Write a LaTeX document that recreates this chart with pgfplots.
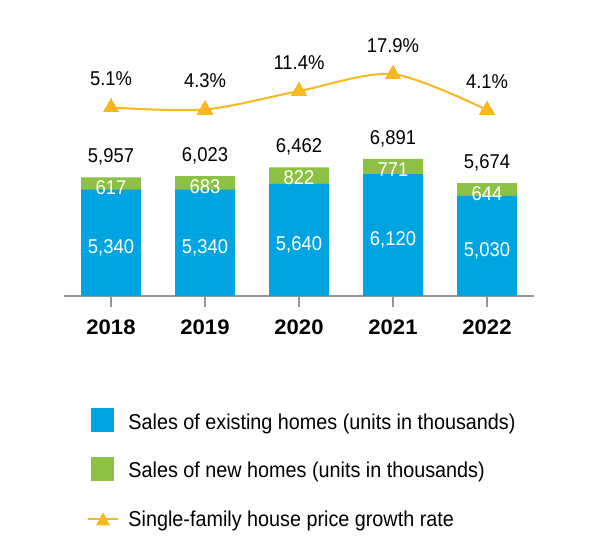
\documentclass[border=0pt]{standalone}
\usepackage{pgfplots}
\pgfplotsset{compat=1.18}
\usepackage{pgfplotstable}
\usepackage{fontspec}
\setmainfont{Liberation Sans}[FakeStretch=0.92]
\newfontfamily\yearfont{Liberation Sans}[FakeStretch=1.05]
\definecolor{cblue}{RGB}{0,164,224}
\definecolor{cgreen}{RGB}{140,193,67}
\definecolor{corange}{RGB}{250,183,31}
\definecolor{cgray}{RGB}{150,150,150}

\pgfplotstableread{
x existing new total
0 5340 617 5957
1 5340 683 6023
2 5640 822 6462
3 6120 771 6891
4 5030 644 5674
}\salestable
\pgfplotstableread{
x rate
0 5.1
1 4.3
2 11.4
3 17.9
4 4.1
}\ratetable

\pgfplotsset{
  /pgf/number format/1000 sep={,},
  /pgf/number format/assume math mode=true,
}
\newcommand\numfont{\fontsize{20bp}{22bp}\selectfont}

\begin{document}
\begin{tikzpicture}
\useasboundingbox (0,0) rectangle (600bp,550bp);
\begin{axis}[
  at={(64bp,254bp)}, anchor=south west,
  scale only axis, width=470bp, height=258.7bp,
  xmin=-0.5, xmax=4.5, ymin=0, ymax=13000,
  ybar, bar width=60bp,
  axis x line*=bottom, axis y line=none,
  x axis line style={cgray, line width=1.6bp, -},
  xtick={0,1,2,3,4},
  xticklabels={2018,2019,2020,2021,2022},
  xtick style={cgray, line width=1.6bp},
  major tick length=10.5bp, tick align=outside,
  xticklabel style={font=\yearfont\bfseries\fontsize{21bp}{21bp}\selectfont, anchor=base, inner sep=0pt, yshift=-28bp},
  ytick=\empty,
  clip=false,
  legend style={at={(0.0489,-0.431)}, anchor=north west, draw=none, fill=none,
    inner sep=0pt, outer sep=0pt, row sep=21.7bp, column sep=9.5bp,
    font=\fontsize{21.5bp}{24bp}\selectfont,
    nodes={inner sep=0pt, text height=16bp, text depth=5bp}},
  legend cell align=left,
]
% green bar = total height (existing + new), blue overlays the existing part
\addplot[forget plot, fill=cgreen, draw=none, bar shift=0pt,
  point meta=explicit,
  nodes near coords,
  every node near coord/.style={text=black, font=\numfont, anchor=base, inner sep=0pt, yshift=14.5bp},
] table[x=x, y=total, meta=total] {\salestable};
\addplot[forget plot, fill=cblue, draw=none, bar shift=0pt,
  visualization depends on={y \as \rawy},
  point meta=explicit,
  nodes near coords,
  every node near coord/.style={text=white, font=\numfont, anchor=base, inner sep=0pt,
     shift={(axis direction cs:0,-\rawy/2)}, yshift=-10.5bp},
] table[x=x, y=existing, meta=existing] {\salestable};
\addplot[forget plot, draw=none, fill=none, bar shift=0pt,
  point meta=explicit,
  nodes near coords,
  every node near coord/.style={text=white, font=\numfont, anchor=base, inner sep=0pt, yshift=-17.5bp},
] table[x=x, y=total, meta=new] {\salestable};
\addlegendimage{legend image code/.code={\path[draw=none, fill=none] (0bp,-11bp) rectangle (30bp,16bp); \path[draw=none, fill=cblue] (3.5bp,-8.5bp) rectangle (26.5bp,15.5bp);}}
\addlegendentry{Sales of existing homes (units in thousands)}
\addlegendimage{legend image code/.code={\path[draw=none, fill=none] (0bp,-11bp) rectangle (30bp,16bp); \path[draw=none, fill=cgreen] (3.5bp,-8.5bp) rectangle (26.5bp,15.5bp);}}
\addlegendentry{Sales of new homes (units in thousands)}
\addlegendimage{legend image code/.code={\path[draw=none, fill=none] (0bp,-11bp) rectangle (30bp,16bp); \path[draw=corange, fill=none, line width=2bp] (0bp,1.5bp) -- (30bp,1.5bp); \path[draw=none, fill=corange] (15bp,8.5bp) -- (8bp,-4.5bp) -- (22bp,-4.5bp) -- cycle;}}
\addlegendentry{Single-family house price growth rate}
\end{axis}
\begin{axis}[
  at={(64bp,254bp)}, anchor=south west,
  scale only axis, width=470bp, height=258.7bp,
  xmin=-0.5, xmax=4.5, ymin=-67.4, ymax=32.08,
  axis lines=none, clip=false,
]
\addplot[corange, line width=2bp, smooth, mark=triangle*, mark size=9bp, mark options={solid, fill=corange, draw=corange, line width=0pt},
  point meta=explicit,
  nodes near coords={\pgfmathprintnumber[fixed, fixed zerofill, precision=1]{\pgfplotspointmeta}\%},
  every node near coord/.style={text=black, font=\numfont, anchor=base, inner sep=0pt, yshift=22bp},
] table[x=x, y=rate, meta=rate] {\ratetable};
\end{axis}
\end{tikzpicture}
\end{document}
